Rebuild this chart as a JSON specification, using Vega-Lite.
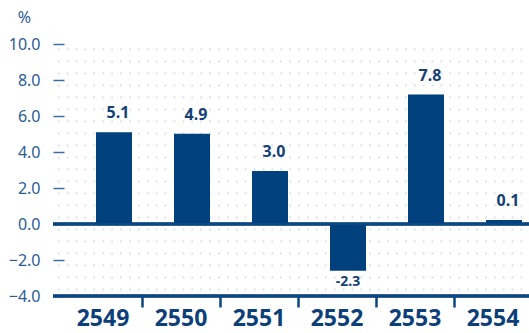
{
  "$schema": "https://vega.github.io/schema/vega-lite/v6.json",
  "width": 476,
  "height": 252,
  "autosize": {"type": "none"},
  "padding": {"left": 53, "top": 44, "right": 0, "bottom": 37},
  "background": "white",
  "config": {"view": {"stroke": null}, "font": "Noto Sans"},
  "data": {
    "values": [
      {"year": "2549", "value": 5.1, "label": "5.1"},
      {"year": "2550", "value": 5.02, "label": "4.9"},
      {"year": "2551", "value": 2.94, "label": "3.0"},
      {"year": "2552", "value": -2.6, "label": "-2.3"},
      {"year": "2553", "value": 7.19, "label": "7.8"},
      {"year": "2554", "value": 0.22, "label": "0.1"}
    ]
  },
  "layer": [
    {
      "mark": {"type": "rule", "opacity": 0},
      "encoding": {
        "y": {
          "datum": 0, "type": "quantitative",
          "axis": {
            "orient": "left",
            "values": [9.74, 9.07, 8.4, 7.74, 7.07, 6.4, 5.74, 5.07, 4.4, 3.74, 3.07, 2.4, 1.74, 1.07, 0.4, -0.26, -0.93, -1.6, -2.26, -2.93, -3.6],
            "grid": true, "gridColor": "#dce3ed", "gridWidth": 2, "gridDash": [2, 6.9], "gridDashOffset": 4.7,
            "labels": false, "ticks": false, "domain": false, "title": null
          }
        }
      }
    },
    {
      "mark": {"type": "bar", "width": 36, "xOffset": 11, "color": "#00417e"},
      "encoding": {
        "x": {
          "field": "year", "type": "nominal", "sort": null,
          "scale": {"range": [11, 479], "paddingInner": 0, "paddingOuter": 0},
          "axis": {
            "title": null, "domain": false, "bandPosition": 0,
            "tickSize": 11, "tickWidth": 2.5, "tickColor": "#0b4680",
            "tickOpacity": {"condition": {"test": "datum.value == '2549'", "value": 0}, "value": 1},
            "labelAngle": 0, "labelFontSize": 23, "labelFontWeight": "bold",
            "labelColor": "#0d3f79", "labelPadding": 0, "labelFont": "Noto Sans"
          }
        },
        "y": {
          "field": "value", "type": "quantitative",
          "scale": {"domain": [-4, 10], "nice": false, "zero": false},
          "axis": {
            "orient": "left",
            "values": [-4, -2, 0, 2, 4, 6, 8, 10], "format": ".1f",
            "offset": -11, "tickSize": 11, "tickWidth": 1.5, "tickColor": "#3d6ca3",
            "labelPadding": 13, "labelFontSize": 16, "labelColor": "#2b5c94",
            "labelFont": "Noto Sans", "domain": false, "grid": false,
            "title": "%", "titleAngle": 0, "titleX": -40, "titleY": -22,
            "titleAlign": "center", "titleBaseline": "alphabetic",
            "titleFontSize": 16, "titleFontWeight": "normal", "titleColor": "#2b5c94"
          }
        }
      }
    },
    {
      "mark": {"type": "rule", "color": "#0b4680", "strokeWidth": 2.5},
      "encoding": {"y": {"datum": 0, "type": "quantitative", "axis": null}}
    },
    {
      "mark": {"type": "rule", "color": "#0b4680", "strokeWidth": 2.5},
      "encoding": {"y": {"datum": -4, "type": "quantitative", "axis": null}}
    },
    {
      "transform": [{"filter": "datum.value >= 0"}],
      "mark": {"type": "text", "xOffset": 15, "dy": -14, "baseline": "alphabetic", "fontSize": 16, "fontWeight": "bold", "color": "#163f75"},
      "encoding": {
        "x": {"field": "year", "type": "nominal", "sort": null},
        "y": {"field": "value", "type": "quantitative", "axis": null},
        "text": {"field": "label"}
      }
    },
    {
      "transform": [{"filter": "datum.value < 0"}],
      "mark": {"type": "text", "xOffset": 11, "dy": 4, "baseline": "top", "fontSize": 14, "fontWeight": "bold", "color": "#163f75"},
      "encoding": {
        "x": {"field": "year", "type": "nominal", "sort": null},
        "y": {"field": "value", "type": "quantitative", "axis": null},
        "text": {"field": "label"}
      }
    }
  ],
  "resolve": {"axis": {"y": "independent"}}
}
